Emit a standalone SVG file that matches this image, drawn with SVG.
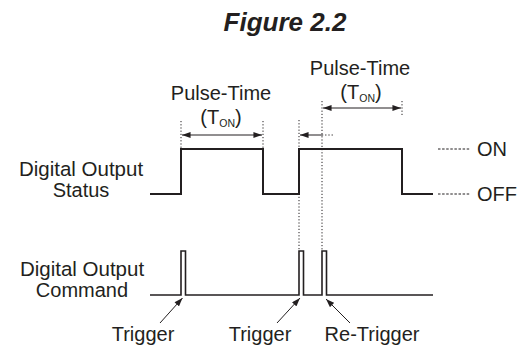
<svg xmlns="http://www.w3.org/2000/svg" width="531" height="345" viewBox="0 0 531 345">
<defs>
<style>
text{font-family:"Liberation Sans",Arial,sans-serif;fill:#231f20;font-size:20px}
.c{text-anchor:middle}
.sub{font-size:10.5px}
.wave{fill:none;stroke:#231f20;stroke-width:2;stroke-linejoin:miter}
.cmd{fill:none;stroke:#231f20;stroke-width:1.6}
.dot{fill:none;stroke:#231f20;stroke-width:1;stroke-dasharray:1.2 2}
.dash{fill:none;stroke:#231f20;stroke-width:1;stroke-dasharray:2.5 1.6}
.arr{fill:none;stroke:#231f20;stroke-width:1}
</style>
<marker id="ah" viewBox="0 0 10 7" refX="10" refY="3.5" markerWidth="9" markerHeight="6" markerUnits="userSpaceOnUse" orient="auto-start-reverse">
<path d="M0,0 L10,3.5 L0,7 z" fill="#231f20"/>
</marker>
</defs>
<rect width="531" height="345" fill="#fff"/>
<text x="285" y="31" class="c" style="font-weight:bold;font-style:italic;font-size:26px">Figure 2.2</text>

<g id="label-status">
<text x="81" y="176" class="c" style="font-size:20.5px">Digital Output</text>
<text x="81" y="197" class="c">Status</text>
</g>
<g id="label-command">
<text x="82" y="276" class="c" style="font-size:20.5px">Digital Output</text>
<text x="82" y="297" class="c">Command</text>
</g>

<g id="status-wave">
<polyline class="wave" points="150,194 181,194 181,149 263,149 263,194 299,194 299,149 402,149 402,194 433,194"/>
</g>
<g id="command-wave">
<polyline class="cmd" points="150,295 181,295 181,251 185.5,251 185.5,295 299,295 299,251 303.5,251 303.5,295 322,295 322,251 326.5,251 326.5,295 433,295"/>
</g>

<g id="on-off">
<line class="dash" x1="438" y1="149" x2="470" y2="149"/>
<text x="477" y="156">ON</text>
<line class="dash" x1="438" y1="194" x2="470" y2="194"/>
<text x="477" y="201">OFF</text>
</g>

<g id="pulse-time-1">
<text x="221" y="100" class="c">Pulse-Time</text>
<text x="221" y="124" class="c">(T<tspan class="sub" dy="3">ON</tspan><tspan dy="-3">)</tspan></text>
</g>
<g id="pulse-time-2">
<text x="360" y="75" class="c">Pulse-Time</text>
<text x="361" y="99" class="c">(T<tspan class="sub" dy="3">ON</tspan><tspan dy="-3">)</tspan></text>
</g>

<g id="connectors">
<line class="dot" x1="181" y1="121" x2="181" y2="149"/>
<line class="dot" x1="263" y1="121" x2="263" y2="149"/>
<line class="arr" x1="182" y1="135" x2="262" y2="135" marker-start="url(#ah)" marker-end="url(#ah)"/>
<line class="dot" x1="322" y1="101" x2="322" y2="251"/>
<line class="dot" x1="402" y1="101" x2="402" y2="117"/>
<line class="arr" x1="323" y1="108" x2="401" y2="108" marker-start="url(#ah)" marker-end="url(#ah)"/>
<line class="dot" x1="299" y1="120" x2="299" y2="251"/>
<line class="arr" x1="322" y1="135" x2="300" y2="135" marker-end="url(#ah)"/>
<line class="dot" x1="322" y1="135" x2="333" y2="135"/>
<line class="arr" x1="160" y1="323" x2="182.5" y2="298" marker-end="url(#ah)"/>
<line class="arr" x1="277" y1="323" x2="300" y2="298" marker-end="url(#ah)"/>
<line class="arr" x1="350" y1="323" x2="326" y2="299" marker-end="url(#ah)"/>
</g>

<g id="trigger-labels">
<text x="143" y="341" class="c">Trigger</text>
<text x="260" y="341" class="c">Trigger</text>
<text x="372" y="341" class="c">Re-Trigger</text>
</g>
</svg>
